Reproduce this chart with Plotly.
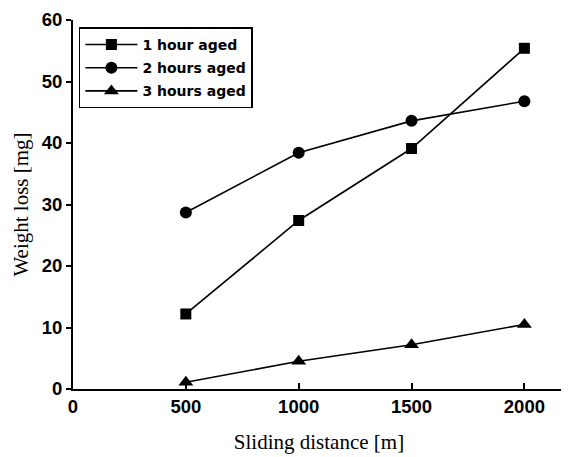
import plotly.graph_objects as go

distance = [500, 1000, 1500, 2000]
aged_1h = [12.2, 27.4, 39.1, 55.4]
aged_2h = [28.7, 38.4, 43.6, 46.8]
aged_3h = [1.1, 4.5, 7.2, 10.5]
series_names = ["1 hour aged", "2 hours aged", "3 hours aged"]
x_ticks = [0, 500, 1000, 1500, 2000]
y_ticks = [0, 10, 20, 30, 40, 50, 60]

fig = go.Figure()
for i, (name, vals, sym, size) in enumerate([
    (series_names[0], aged_1h, "square", 11),
    (series_names[1], aged_2h, "circle", 12),
    (series_names[2], aged_3h, "triangle-up", 13),
]):
    fig.add_trace(go.Scatter(
        x=distance, y=vals, name=name, mode="lines+markers",
        legendgroup=f"g{i}",
        line=dict(color="black", width=1.6),
        marker=dict(symbol=sym, size=size, color="black"),
    ))

fig.update_layout(
    width=561, height=449,
    margin=dict(l=65, r=4, t=12, b=68),
    paper_bgcolor="white", plot_bgcolor="white",
    font=dict(family="Liberation Sans", color="black"),
    legend=dict(
        x=0.012, y=0.98, xanchor="left", yanchor="top",
        bordercolor="black", borderwidth=1.5, bgcolor="white",
        font=dict(family="DejaVu Sans", size=14, weight="bold"),
        tracegroupgap=2, itemwidth=52,
    ),
    showlegend=True,
)
fig.update_xaxes(
    range=[0, 2180], tickvals=x_ticks, ticks="inside", ticklen=6,
    tickcolor="black", tickwidth=1.5, automargin=False,
    showline=True, linecolor="black", linewidth=2, showgrid=False, zeroline=False,
    tickfont=dict(family="Liberation Sans", size=18.5, weight="bold"),
    title=dict(text="Sliding distance [m]", font=dict(family="Liberation Serif", size=21), standoff=18),
)
fig.update_yaxes(
    range=[0, 60], tickvals=y_ticks, ticks="outside", ticklen=5,
    tickcolor="black", tickwidth=1.5, automargin=False,
    showline=True, linecolor="black", linewidth=2, showgrid=False, zeroline=False,
    tickfont=dict(family="Liberation Sans", size=18.5, weight="bold"),
    title=dict(text="Weight loss [mg]", font=dict(family="Liberation Serif", size=21), standoff=7),
)
fig.write_html("out.html")
